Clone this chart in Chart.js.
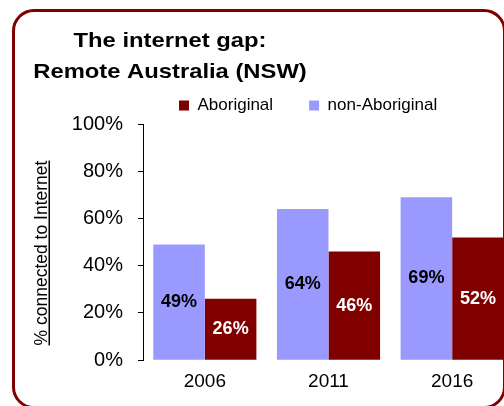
<!DOCTYPE html>
<html>
<head>
<meta charset="utf-8">
<script src="https://cdn.jsdelivr.net/npm/chart.js@4"></script>
<style>
  html, body { margin: 0; padding: 0; overflow: hidden; background: #fff; }
  #frame {
    position: absolute; left: 12px; top: 9px; width: 494px; height: 400px;
    border: 3px solid #800000; border-radius: 22px; box-sizing: border-box;
  }
  #wrap { position: absolute; left: 0; top: 0; width: 514px; height: 406px; }
</style>
</head>
<body>
<div id="frame"></div>
<div id="wrap"><canvas id="gapChart"></canvas></div>
<script>
// values
const years = ['2006', '2011', '2016'];
const nonAboriginal = [49, 64, 69];
const aboriginal = [26, 46, 52];
const titleLines = ['The internet gap:', 'Remote Australia (NSW)'];
const yAxisLabel = '% connected to Internet';

Chart.defaults.font.family = "'Liberation Sans', Arial, sans-serif";
Chart.defaults.color = '#000';

// title, rotated y label with underline, value labels inside the bars
const textPlugin = {
    id: 'textPlugin',
    afterDraw(chart) {
        const ctx = chart.ctx;
        ctx.save();
        ctx.fillStyle = '#000';
        ctx.font = "bold 20.5px 'Liberation Sans', Arial, sans-serif";
        ctx.textAlign = 'center';
        ctx.textBaseline = 'alphabetic';
        [47, 77.5].forEach((y, i) => {
            ctx.save();
            ctx.translate(170, y);
            ctx.scale(1.16, 1);
            ctx.fillText(titleLines[i], 0, 0);
            ctx.restore();
        });

        ctx.save();
        ctx.translate(46.5, 253);
        ctx.rotate(-Math.PI / 2);
        ctx.font = "17.5px 'Liberation Sans', Arial, sans-serif";
        ctx.fillText(yAxisLabel, 0, 0);
        const w = ctx.measureText(yAxisLabel).width;
        ctx.fillRect(-w / 2, 2, w, 1.5);
        ctx.restore();

        ctx.font = "bold 18px 'Liberation Sans', Arial, sans-serif";
        ctx.textBaseline = 'middle';
        chart.data.datasets.forEach((ds, i) => {
            ctx.fillStyle = i === 0 ? '#000' : '#fff';
            chart.getDatasetMeta(i).data.forEach((bar, j) => {
                const p = bar.getProps(['x', 'y', 'base'], true);
                ctx.fillText(ds.data[j] + '%', p.x, (p.y + p.base) / 2);
            });
        });
        ctx.restore();
    }
};

const ctx = document.getElementById('gapChart').getContext('2d');
new Chart(ctx, {
    type: 'bar',
    data: {
        labels: years,
        datasets: [{
            label: 'non-Aboriginal',
            data: nonAboriginal,
            backgroundColor: '#9999ff',
        }, {
            label: 'Aboriginal',
            data: aboriginal,
            backgroundColor: '#800000',
        }]
    },
    options: {
        responsive: true,
        maintainAspectRatio: false,
        animation: false,
        categoryPercentage: 0.834,
        barPercentage: 1,
        layout: { padding: { left: 0, top: 61, right: 0, bottom: 11 } },
        plugins: {
            title: { display: false },
            tooltip: { enabled: false },
            legend: {
                position: 'top',
                align: 'start',
                fullSize: false,
                reverse: true,
                labels: {
                    boxWidth: 10,
                    boxHeight: 10,
                    padding: 36,
                    color: '#000',
                    font: { size: 17 }
                }
            }
        },
        scales: {
            x: {
                grid: { display: false },
                border: { display: false },
                ticks: { padding: 2, font: { size: 19 }, color: '#000' }
            },
            y: {
                min: 0,
                max: 100,
                afterFit(scale) { scale.width = 143; },
                grid: { drawOnChartArea: false, drawTicks: true, tickLength: 5, color: '#000' },
                border: { display: true, color: '#000' },
                ticks: {
                    stepSize: 20,
                    padding: 15,
                    font: { size: 20 },
                    color: '#000',
                    callback: v => v + '%'
                }
            }
        }
    },
    plugins: [textPlugin]
});
</script>
</body>
</html>
